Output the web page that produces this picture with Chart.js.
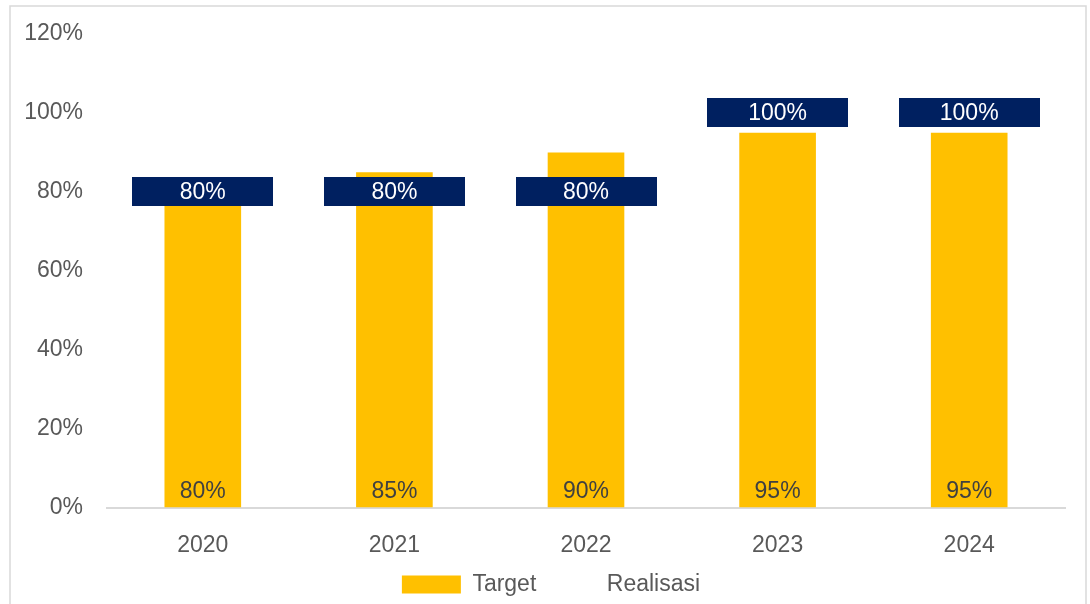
<!DOCTYPE html>
<html><head><meta charset="utf-8">
<script src="https://cdn.jsdelivr.net/npm/chart.js@4"></script>
<style>html,body{margin:0;padding:0;background:#fff}#wrap{width:1090px;height:604px;position:relative}</style>
</head><body><div id="wrap"><canvas id="c" width="1090" height="604"></canvas></div>
<script>
const categories = ['2020', '2021', '2022', '2023', '2024'];
const targetValues = [80, 85, 90, 95, 95];
const realisasiValues = [80, 80, 80, 100, 100];
const seriesNames = ['Target', 'Realisasi'];
const yMin = 0, yMax = 120, yStep = 20;

const FONT = '"Liberation Sans", Arial, sans-serif';
const YELLOW = '#FFC000', NAVY = '#002060', GREY = '#595959';

// navy label box used as the point marker of the Realisasi series
const box = document.createElement('canvas');
box.width = 141; box.height = 29;
const bctx = box.getContext('2d');
bctx.fillStyle = NAVY; bctx.fillRect(0, 0, 141, 29);

const framePlugin = {
  id: 'frame',
  beforeDraw(chart) {
    const ctx = chart.ctx;
    ctx.save();
    ctx.strokeStyle = '#d9d9d9'; ctx.lineWidth = 1.5;
    ctx.strokeRect(10, 6, 1076, 700);
    ctx.restore();
  }
};

const legendShift = {
  id: 'legendShift',
  afterLayout(chart) {
    const L = chart.legend;
    if (!L) return;
    const want = 551, cur = (L.left + L.right) / 2;
    L.left += want - cur; L.right += want - cur;
    L.top += 2; L.bottom += 2;
  }
};

const labelPlugin = {
  id: 'valueLabels',
  afterDatasetsDraw(chart) {
    const ctx = chart.ctx;
    ctx.save();
    ctx.font = '23px ' + FONT;
    ctx.textAlign = 'center';
    ctx.textBaseline = 'middle';
    chart.getDatasetMeta(0).data.forEach((bar, i) => {
      ctx.fillStyle = '#404040';
      ctx.fillText(targetValues[i] + '%', bar.x, bar.base - 16);
    });
    chart.getDatasetMeta(1).data.forEach((pt, i) => {
      ctx.fillStyle = '#ffffff';
      ctx.fillText(realisasiValues[i] + '%', pt.x, pt.y + 1);
    });
    ctx.restore();
  }
};

new Chart(document.getElementById('c'), {
  type: 'bar',
  data: {
    labels: categories,
    datasets: [
      {
        label: seriesNames[0], data: targetValues, backgroundColor: YELLOW,
        barPercentage: 0.4, categoryPercentage: 1, order: 1
      },
      {
        type: 'line', label: seriesNames[1], data: realisasiValues, showLine: false,
        pointStyle: box, pointRadius: 1, pointHoverRadius: 1,
        backgroundColor: NAVY, borderColor: NAVY, order: 0
      }
    ]
  },
  options: {
    responsive: false,
    animation: false,
    devicePixelRatio: 1,
    layout: { padding: { top: 34, right: 25, left: 0, bottom: 0 } },
    plugins: {
      tooltip: { enabled: false },
      legend: {
        position: 'bottom',
        labels: {
          boxWidth: 59, boxHeight: 18, padding: 0,
          color: GREY, font: { size: 23, family: FONT },
          generateLabels: () => [
            { text: seriesNames[0], fillStyle: YELLOW, strokeStyle: YELLOW, lineWidth: 0, hidden: false, datasetIndex: 0, fontColor: GREY },
            { text: seriesNames[1], fillStyle: 'rgba(0,0,0,0)', strokeStyle: 'rgba(0,0,0,0)', lineWidth: 0, hidden: false, datasetIndex: 1, fontColor: GREY }
          ]
        }
      }
    },
    scales: {
      x: {
        grid: { display: false, drawTicks: false },
        border: { display: true, color: '#d9d9d9', width: 2 },
        ticks: { color: GREY, font: { size: 23, family: FONT }, padding: 24 },
        afterFit(s) { s.height = 63.4; s.paddingLeft = 0; s.paddingRight = 0; }
      },
      y: {
        min: yMin, max: yMax,
        grid: { display: false, drawTicks: false },
        border: { display: false },
        ticks: { stepSize: yStep, color: GREY, font: { size: 23, family: FONT }, padding: 24, callback: v => v + '%' },
        afterFit(s) { s.width = 107; s.paddingTop = 4; s.paddingBottom = 4; }
      }
    }
  },
  plugins: [framePlugin, legendShift, labelPlugin]
});
</script></body></html>
